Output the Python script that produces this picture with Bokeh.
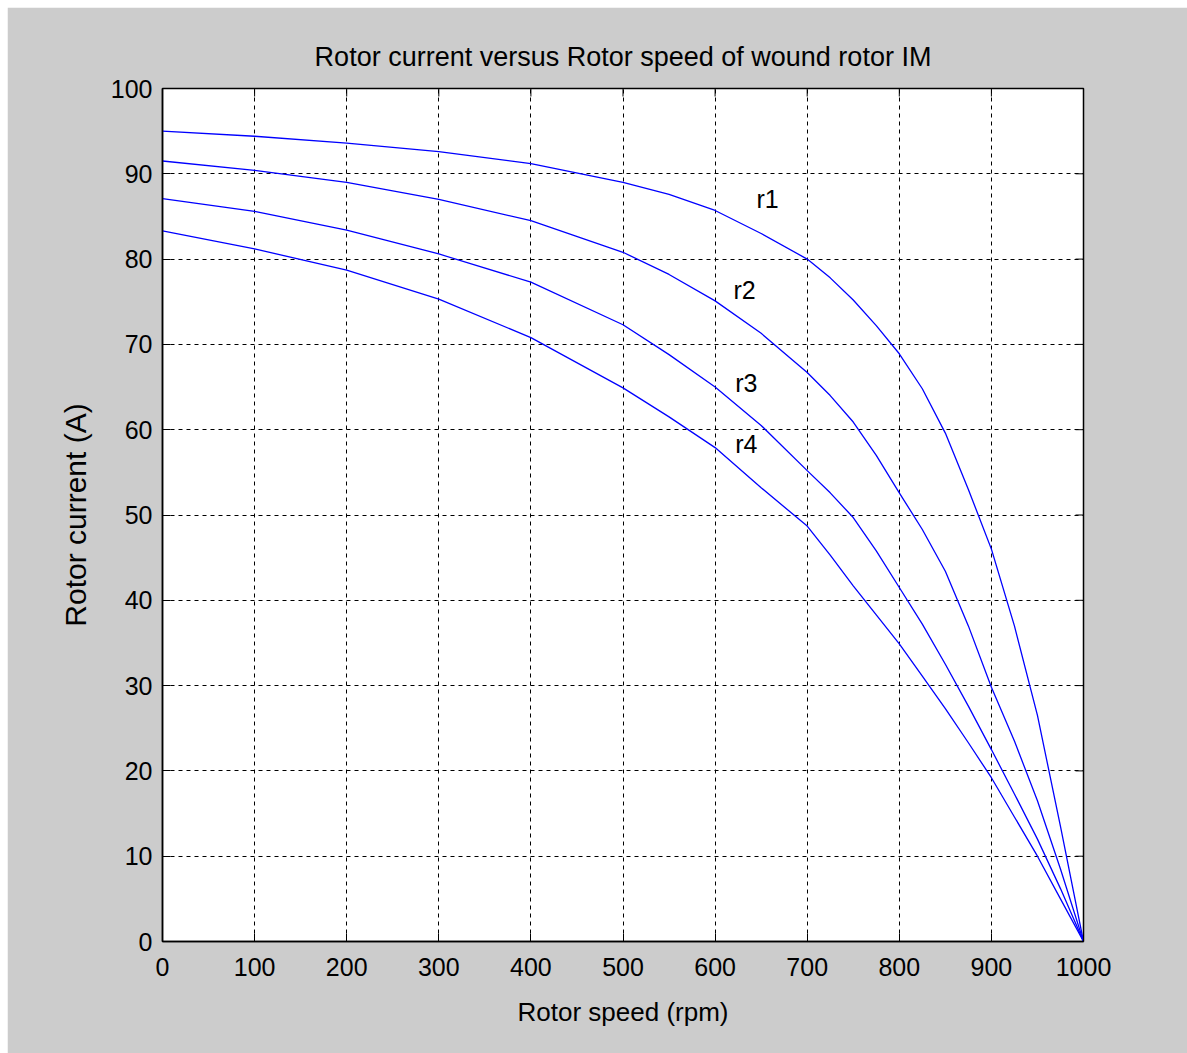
import math
from bokeh.plotting import figure
from bokeh.models import Range1d, FixedTicker, Label
from bokeh.embed import file_html
from bokeh.resources import INLINE

# Data
speed = [0, 100, 200, 300, 400, 500, 550, 600, 650, 700, 725, 750, 775, 800, 825, 850, 875, 900, 925, 950, 975, 1000]
r1 = [95.0, 94.4, 93.6, 92.6, 91.2, 89.0, 87.6, 85.7, 83.0, 80.0, 77.8, 75.2, 72.2, 68.9, 64.8, 59.6, 53.0, 46.0, 37.0, 26.5, 13.5, 0.0]
r2 = [91.5, 90.4, 89.0, 87.0, 84.5, 80.8, 78.2, 75.1, 71.3, 66.7, 64.0, 60.9, 57.0, 52.6, 48.3, 43.4, 37.0, 29.8, 23.5, 16.5, 8.5, 0.0]
r3 = [87.1, 85.6, 83.4, 80.6, 77.3, 72.3, 68.8, 65.0, 60.5, 55.2, 52.6, 49.7, 45.8, 41.5, 37.2, 32.5, 27.6, 22.5, 17.3, 12.0, 6.2, 0.0]
r4 = [83.3, 81.2, 78.7, 75.3, 70.8, 64.9, 61.5, 57.9, 53.2, 48.7, 45.3, 41.7, 38.3, 34.9, 31.1, 27.3, 23.3, 19.2, 14.6, 10.0, 5.0, 0.0]
series = [r1, r2, r3, r4]
labels = ["r1", "r2", "r3", "r4"]
label_x = [657, 632, 634, 634]
label_y = [87.1, 76.4, 65.5, 58.3]
x_ticks = [0, 100, 200, 300, 400, 500, 600, 700, 800, 900, 1000]
y_ticks = [0, 10, 20, 30, 40, 50, 60, 70, 80, 90, 100]

GRAY = "#cccccc"
FONT = "Liberation Sans"

p = figure(frame_width=921, frame_height=853, output_backend="svg", toolbar_location=None,
           x_range=Range1d(0, 1000), y_range=Range1d(0, 100),
           min_border_left=155, min_border_top=81, min_border_right=104, min_border_bottom=112,
           background_fill_color="white", border_fill_color=GRAY)
p.styles = {"margin-left": "7px", "margin-top": "7px"}

p.title.text = "Rotor current versus Rotor speed of wound rotor IM"
p.title.align = "center"
p.title.text_font = FONT
p.title.text_font_size = "27px"
p.title.text_font_style = "normal"
p.title.text_color = "black"
p.title.offset = 0
p.title.standoff = 33

p.outline_line_color = "black"
p.outline_line_width = 1.5

for ax in (p.xaxis[0], p.yaxis[0]):
    ax.major_tick_in = 8
    ax.major_tick_out = 0
    ax.minor_tick_in = 0
    ax.minor_tick_out = 0
    ax.axis_line_color = "black"
    ax.axis_line_width = 1.5
    ax.major_tick_line_color = "black"
    ax.major_label_text_font = FONT
    ax.major_label_text_font_size = "25px"
    ax.major_label_text_color = "black"
    ax.axis_label_text_font = FONT
    ax.axis_label_text_font_style = "normal"
    ax.axis_label_text_color = "black"

p.xaxis.ticker = FixedTicker(ticks=x_ticks)
p.yaxis.ticker = FixedTicker(ticks=y_ticks)
p.xaxis.major_label_standoff = 16
p.yaxis.major_label_standoff = 10
p.xaxis.axis_label = "Rotor speed (rpm)"
p.xaxis.axis_label_text_font_size = "26px"
p.xaxis.axis_label_standoff = 18
p.yaxis.axis_label = "Rotor current (A)"
p.yaxis.axis_label_text_font_size = "30px"
p.yaxis.axis_label_standoff = 16

for g in (p.xgrid[0], p.ygrid[0]):
    g.grid_line_color = "black"
    g.grid_line_dash = "4 4"
    g.grid_line_width = 1
    g.grid_line_alpha = 1.0
p.xgrid.ticker = FixedTicker(ticks=x_ticks)
p.ygrid.ticker = FixedTicker(ticks=y_ticks)

# Inward tick marks on the top and right frame edges
p.ray(x=x_ticks, y=[100] * len(x_ticks), length=8, length_units="screen",
      angle=-math.pi / 2, line_color="black", line_width=1)
p.ray(x=[1000] * len(y_ticks), y=y_ticks, length=8, length_units="screen",
      angle=math.pi, line_color="black", line_width=1)

for s in series:
    p.line(speed, s, line_color="#0000ff", line_width=1.3)

for t, lx, ly in zip(labels, label_x, label_y):
    p.add_layout(Label(x=lx, y=ly, text=t, text_font=FONT, text_font_size="25px",
                       text_color="black", text_align="center", text_baseline="middle"))

open("out.html", "w").write(file_html(p, INLINE))
